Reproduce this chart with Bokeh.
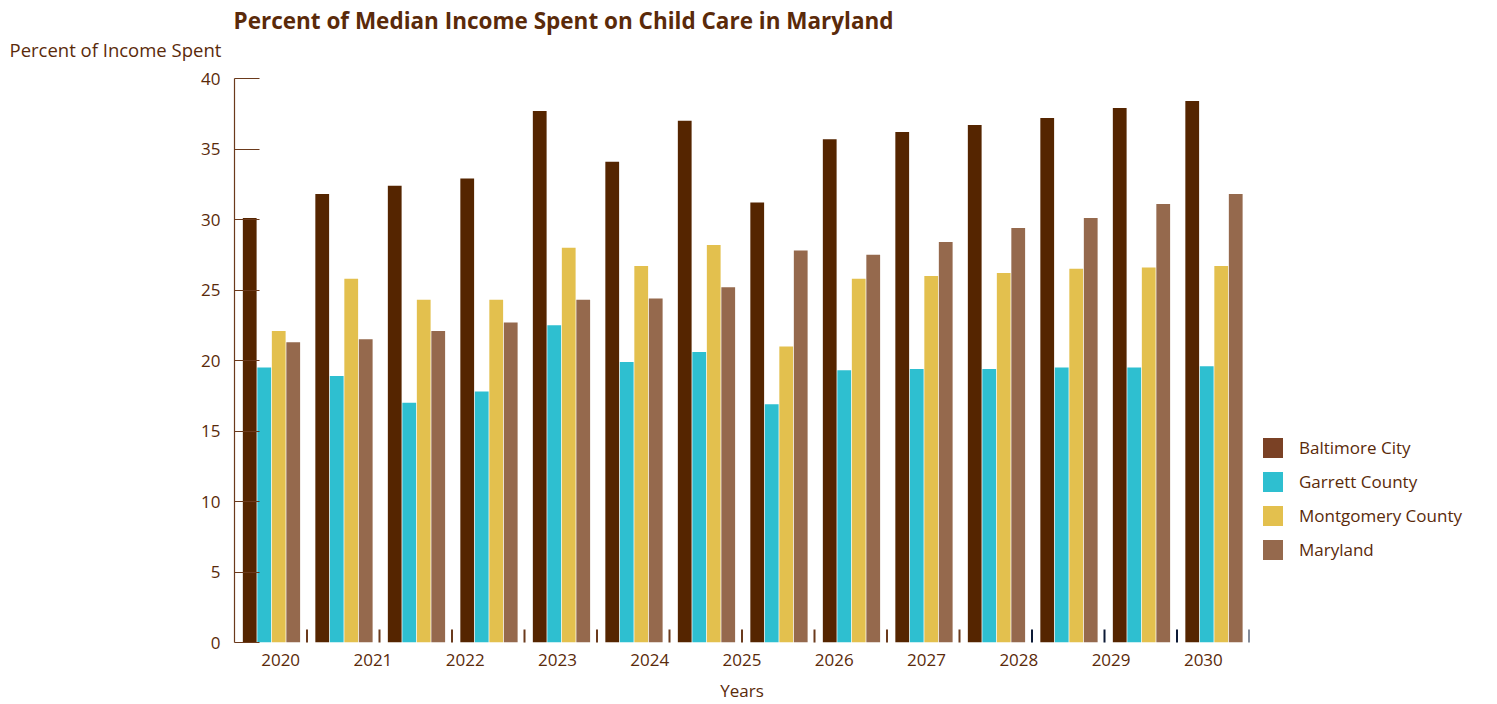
import numpy as np
from bokeh.plotting import figure
from bokeh.layouts import row
from bokeh.models import (Range1d, FixedTicker, LinearAxis, Legend, LegendItem,
                          Title, ColumnDataSource)
from bokeh.embed import file_html
from bokeh.resources import INLINE

# ---- data ----
year_labels = ["2020", "2021", "2022", "2023", "2024", "2025", "2026",
               "2027", "2028", "2029", "2030"]
series_names = ["Baltimore City", "Garrett County", "Montgomery County", "Maryland"]
baltimore = [30.1, 31.8, 32.4, 32.9, 37.7, 34.1, 37.0, 31.2, 35.7, 36.2, 36.7, 37.2, 37.9, 38.4]
garrett = [19.5, 18.9, 17.0, 17.8, 22.5, 19.9, 20.6, 16.9, 19.3, 19.4, 19.4, 19.5, 19.5, 19.6]
montgomery = [22.1, 25.8, 24.3, 24.3, 28.0, 26.7, 28.2, 21.0, 25.8, 26.0, 26.2, 26.5, 26.6, 26.7]
maryland = [21.3, 21.5, 22.1, 22.7, 24.3, 24.4, 25.2, 27.8, 27.5, 28.4, 29.4, 30.1, 31.1, 31.8]
y_ticks = [0, 5, 10, 15, 20, 25, 30, 35, 40]

# ---- style ----
TEXT = "#5a2a0a"
AXIS = "#6b3a1c"
NAVY = "#0d1a36"
bar_colors = ["#552500", "#2ebfd0", "#e3c04e", "#95694d"]
legend_colors = ["#7a4125", "#2ebfd0", "#e3c04e", "#95694d"]
FONT = "Open Sans"

n = len(baltimore)
idx = np.arange(n)

p = figure(width=1257, height=704, output_backend="svg", toolbar_location=None,
           x_range=Range1d(0, n), y_range=Range1d(0, 40),
           min_border_left=234, min_border_right=8, min_border_top=78,
           min_border_bottom=20, x_axis_type=None, y_axis_type=None)
p.outline_line_color = None
p.xgrid.visible = False
p.ygrid.visible = False
p.background_fill_color = "white"
p.border_fill_color = "white"

for k, vals in enumerate([baltimore, garrett, montgomery, maryland]):
    src = ColumnDataSource(dict(x=idx + 0.21 + 0.2 * k, top=vals))
    p.vbar(x="x", top="top", width=0.19, bottom=0, source=src,
           fill_color=bar_colors[k], line_color=None)

# group separator marks at the bottom (lower half clipped by the frame)
sep_colors = [AXIS] * 10 + [NAVY] * (n - 10)
p.scatter(x=idx + 1, y=np.zeros(n), marker="dash", size=26, angle=np.pi / 2,
          line_color=sep_colors, line_width=2)

# y axis
yaxis = LinearAxis(ticker=FixedTicker(ticks=y_ticks))
yaxis.axis_line_color = AXIS
yaxis.axis_line_width = 1.2
yaxis.major_tick_line_color = AXIS
yaxis.major_tick_line_width = 1.2
yaxis.major_tick_in = 25
yaxis.major_tick_out = 0
yaxis.minor_tick_line_color = None
yaxis.major_label_text_color = TEXT
yaxis.major_label_text_font = FONT
yaxis.major_label_text_font_size = "17px"
yaxis.major_label_standoff = 14
p.add_layout(yaxis, "left")

# year label axis
p.extra_x_ranges = {"years": Range1d(0, len(year_labels))}
ticks = [i + 0.5 for i in range(len(year_labels))]
yr = LinearAxis(x_range_name="years", ticker=FixedTicker(ticks=ticks),
                major_label_overrides={t: lab for t, lab in zip(ticks, year_labels)})
yr.axis_line_color = None
yr.major_tick_line_color = None
yr.major_tick_out = 0
yr.major_tick_in = 0
yr.minor_tick_line_color = None
yr.major_label_text_color = TEXT
yr.major_label_text_font = FONT
yr.major_label_text_font_size = "17px"
yr.major_label_standoff = 11
yr.axis_label = "Years"
yr.axis_label_text_color = TEXT
yr.axis_label_text_font = FONT
yr.axis_label_text_font_size = "17px"
yr.axis_label_text_font_style = "normal"
yr.axis_label_standoff = 10
p.add_layout(yr, "below")

# titles (first added sits closest to the frame); the trailing line break
# keeps the y-label lifted above the plot frame
p.add_layout(Title(text="Percent of Income Spent\n", align="left", offset=-225,
                   text_font=FONT, text_font_size="18.5px", text_font_style="normal",
                   text_color=TEXT, standoff=0, text_line_height=0.65), "above")
p.add_layout(Title(text="Percent of Median Income Spent on Child Care in Maryland",
                   align="left", offset=-1, text_font=FONT, text_font_size="22.5px",
                   text_font_style="bold", text_color=TEXT, standoff=0), "above")

# legend panel
lg = figure(width=240, height=704, output_backend="svg", toolbar_location=None,
            x_range=Range1d(0, 1), y_range=Range1d(0, 1),
            min_border_left=0, min_border_right=0, min_border_top=0, min_border_bottom=0,
            x_axis_type=None, y_axis_type=None)
lg.outline_line_color = None
lg.xgrid.visible = False
lg.ygrid.visible = False
lg.background_fill_color = "white"
lg.border_fill_color = "white"
items = []
for name, col in zip(series_names, legend_colors):
    r = lg.vbar(x=[np.nan], top=[np.nan], width=0.1, fill_color=col, line_color=None)
    items.append(LegendItem(label=name, renderers=[r]))
legend = Legend(items=items, location=(3, 80))
legend.glyph_width = 25
legend.glyph_height = 25
legend.spacing = 9
legend.padding = 0
legend.margin = 0
legend.label_standoff = 14
legend.label_text_font = FONT
legend.label_text_font_size = "17px"
legend.label_text_color = TEXT
legend.border_line_color = None
legend.background_fill_alpha = 0
lg.add_layout(legend, "center")

layout = row(p, lg)
open("out.html", "w").write(file_html(layout, INLINE))
